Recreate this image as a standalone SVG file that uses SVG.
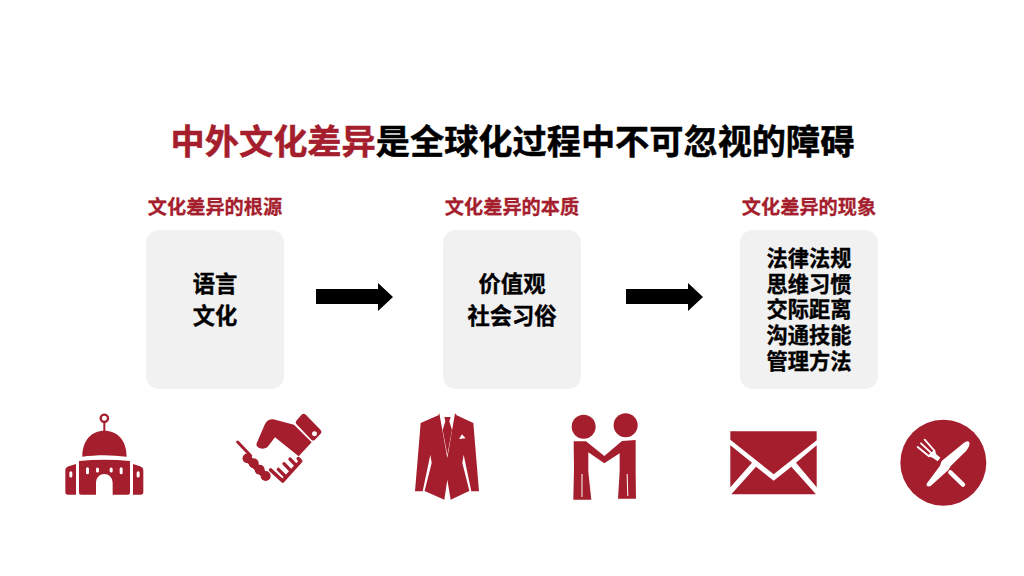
<svg xmlns="http://www.w3.org/2000/svg" width="1024" height="576" viewBox="0 0 1024 576">
<style>
text{font-family:"Noto Sans CJK SC","Liberation Sans",sans-serif;font-weight:700;text-anchor:middle;stroke-linejoin:round}
.t{font-size:34.2px;stroke-width:.5px}.h{font-size:19.2px;fill:#a51e2d;stroke:#a51e2d;stroke-width:.3px}.b{font-size:22.3px;fill:#000;stroke:#000;stroke-width:.35px}.s{font-size:21.2px;fill:#000;stroke:#000;stroke-width:.35px}
.box{fill:#f1f1f1}.r{fill:#a51e2d}.w{fill:#fff}
</style>
<rect width="1024" height="576" fill="#fff"/>
<text class="t" x="512.500" y="154"><tspan fill="#a51e2d" stroke="#a51e2d">中外文化差异</tspan><tspan fill="#000" stroke="#000">是全球化过程中不可忽视的障碍</tspan></text>
<g id="node-root"><text class="h" x="215" y="214">文化差异的根源</text><rect class="box" x="146" y="230" width="138" height="159" rx="13"/><text class="b"><tspan x="215" y="292">语言</tspan><tspan x="215" y="324">文化</tspan></text></g>
<g id="node-essence"><text class="h" x="512" y="214">文化差异的本质</text><rect class="box" x="443" y="230" width="138" height="159" rx="13"/><text class="b"><tspan x="512" y="292">价值观</tspan><tspan x="512" y="324">社会习俗</tspan></text></g>
<g id="node-phenomena"><text class="h" x="809" y="214">文化差异的现象</text><rect class="box" x="740" y="230" width="138" height="159" rx="13"/><text class="s"><tspan x="809" y="266">法律法规</tspan><tspan x="809" y="292">思维习惯</tspan><tspan x="809" y="317">交际距离</tspan><tspan x="809" y="343">沟通技能</tspan><tspan x="809" y="369">管理方法</tspan></text></g>
<g id="connectors">
<polygon points="316,289 378,289 378,283 393,297 378,311 378,304 316,304"/>
<polygon points="626,289 688,289 688,283 703,297 688,311 688,304 626,304"/>
</g>
<g id="icon-temple" class="r" transform="translate(50,400) scale(.3333)">
<circle cx="163" cy="55" r="11" fill="none" stroke="#a51e2d" stroke-width="7"/><rect x="160" y="66" width="6" height="30"/>
<path d="M97 170C97 120 125 92 163 92C202 92 230 120 230 170C185 164 140 164 97 170Z"/>
<path fill-rule="evenodd" d="M87 183Q163 176 240 183V278Q240 284 234 284H188V250C188 232 176 222 163 222C150 222 138 232 138 250V284H93Q87 284 87 278ZM108 206v12a4.500 4.500 0 0 0 9 0v-12a4.500 4.500 0 0 0-9 0ZM138 207v6a4 4 0 0 0 9 0v-6a4 4 0 0 0-9 0ZM179 207v6a4 4 0 0 0 9 0v-6a4 4 0 0 0-9 0ZM209 206v12a4.500 4.500 0 0 0 9 0v-12a4.500 4.500 0 0 0-9 0Z"/>
<path fill-rule="evenodd" d="M78 192V284H54Q46 284 46 276V212Q46 202 56 199ZM58 218v10a4 4 0 0 0 9 0v-10a4 4 0 0 0-9 0Z"/>
<path fill-rule="evenodd" d="M249 192V284H272Q280 284 280 276V212Q280 202 270 199ZM260 218v10a4 4 0 0 0 9 0v-10a4 4 0 0 0-9 0Z"/>
</g>
<g id="icon-handshake" class="r" transform="translate(230,408) scale(.3333)">
<path fill-rule="evenodd" d="M199 38L216 19Q221 15 226 19L272 66Q277 72 272 77L254 96Q249 100 244 95L199 48Q195 43 199 38ZM246 77a7.500 7.500 0 1 0 15 0a7.500 7.500 0 1 0-15 0Z"/>
<path d="M80 106L104 50Q112 33 130 34L192 50L245 103L206 145L135 88L112 118Q100 125 88 120Q77 115 80 106Z"/>
<g fill="none" stroke="#a51e2d" stroke-linecap="round" stroke-linejoin="round">
<path stroke-width="11" d="M205 152L212 159L158 219L122 186"/>
<path stroke-width="10" d="M198 172L180 153M182 188L162 167M165 204L145 184"/>
<path stroke-width="9" d="M23 102L62 143"/>
<path stroke-width="20" d="M53 151L108 205"/>
</g>
<circle cx="52" cy="151" r="14.500"/><circle cx="71" cy="166" r="15"/><circle cx="89" cy="185" r="15"/><circle cx="107" cy="204" r="15"/>
</g>
<g id="icon-suit" class="r" transform="translate(410,408) scale(.3333)">
<path d="M32 45L85 22L88 16L112 150L135 16L140 22L190 45L207 250H184L179 248L122 275L112 215L103 275L42 248L38 250H15Z"/>
<path class="w" d="M61 140L65 165L44 248L38 250ZM161 140L157 165L178 248L184 250Z"/>
<path d="M103 27H122L118 40L126 66L112 140L98 66L106 40Z"/>
<path class="w" d="M147 93L156 79L167 91Z"/>
</g>
<g id="icon-people" class="r" transform="translate(400,400) scale(.3333)">
<circle cx="551" cy="80" r="36"/><circle cx="677" cy="76" r="36"/>
<path d="M521 124H558L613 168L666 123L707 120V208L708 296H654L659 215V160L613 190L565 157V215L574 299H520L522 208Z"/>
<path class="w" d="M544.500 222H547.500V291H544.500ZM680 222H683L685 288H682Z"/>
</g>
<g id="icon-mail" class="r" transform="translate(720,410) scale(.3333)">
<path d="M31 64H290V91L161 193L31 89Z"/>
<path d="M31 106L96 158L31 232Z"/><path d="M290 106L228 158L290 232Z"/>
<path d="M34 253L108 170L161 212L214 170L288 253Z"/>
</g>
<g id="icon-dining" transform="translate(895,415) scale(.3333)">
<circle class="r" cx="145" cy="143" r="129"/>
<path fill="none" stroke="#fff" stroke-width="13" stroke-linecap="round" d="M166 172L204 209"/>
<path class="w" d="M95 206L135 152L140 138L206 84Q218 75 223 82Q226 92 214 107L168 152L160 165L107 213Q100 216 95 212Z"/>
<path fill="none" stroke="#fff" stroke-width="5.500" stroke-linecap="round" d="M68 96L102 124M78 85L110 115M89 74L119 108"/>
<path class="w" d="M98 122L118 104L124 118L136 128L128 139L114 129Z"/>
</g>
</svg>
